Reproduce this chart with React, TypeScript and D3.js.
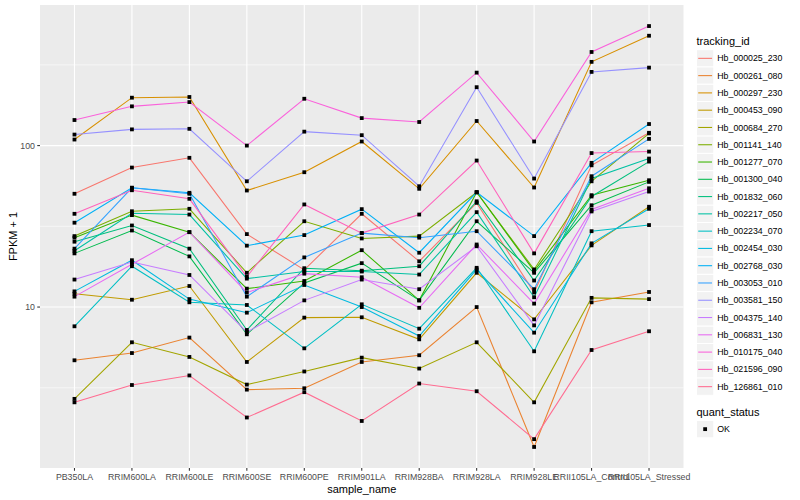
import React, { useEffect, useRef } from 'react';
import * as d3 from 'd3';

const samples = [
  'PB350LA', 'RRIM600LA', 'RRIM600LE', 'RRIM600SE', 'RRIM600PE', 'RRIM901LA',
  'RRIM928BA', 'RRIM928LA', 'RRIM928LE', 'RRII105LA_Control', 'RRII105LA_Stressed',
];

const trackingIds = [
  'Hb_000025_230', 'Hb_000261_080', 'Hb_000297_230', 'Hb_000453_090', 'Hb_000684_270',
  'Hb_001141_140', 'Hb_001277_070', 'Hb_001300_040', 'Hb_001832_060', 'Hb_002217_050',
  'Hb_002234_070', 'Hb_002454_030', 'Hb_002768_030', 'Hb_003053_010', 'Hb_003581_150',
  'Hb_004375_140', 'Hb_006831_130', 'Hb_010175_040', 'Hb_021596_090', 'Hb_126861_010',
];

const hueColors = [
  '#F8766D', '#EA8331', '#D89000', '#C09B00', '#A3A500', '#7CAE00', '#39B600', '#00BB4E',
  '#00BF7D', '#00C1A3', '#00BFC4', '#00BAE0', '#00B0F6', '#35A2FF', '#9590FF', '#C77CFF',
  '#E76BF3', '#FA62DB', '#FF62BC', '#FF6C91',
];

// FPKM + 1, one value per sample (same order as samples)
const hb000025 = [50.3, 73.1, 84, 28.3, 17.0, 37.8, 19.2, 44.2, 12.3, 75.5, 120];
const hb000261 = [4.68, 5.19, 6.47, 3.08, 3.14, 4.57, 5.03, 10.0, 1.36, 10.7, 12.4];
const hb000297 = [109, 198, 200, 52.7, 68.4, 106, 54, 142, 55, 330, 479];
const hb000453 = [12.1, 11.1, 13.5, 4.57, 8.6, 8.64, 6.31, 16.3, 8.39, 24.1, 41.8];
const hb000684 = [2.7, 6.05, 4.91, 3.31, 3.99, 4.86, 4.16, 6.05, 2.57, 11.4, 11.2];
const hb001141 = [27.5, 39.2, 40.6, 16.3, 34.0, 26.6, 27.5, 51.4, 17.1, 60.1, 119];
const hb001277 = [26.9, 37.1, 29.1, 13.0, 14.5, 22.5, 11.0, 51.4, 16.7, 49.3, 61.0];
const hb001300 = [21.5, 29.8, 20.6, 6.78, 14.1, 18.7, 11.0, 34.0, 16.3, 42.7, 59.6];
const hb001832 = [25.4, 32.0, 23.0, 7.21, 17.4, 16.8, 17.9, 45.2, 14.6, 48.4, 79.6];
const hb002217 = [22.3, 38.1, 37.4, 15.0, 16.6, 16.6, 15.9, 38.7, 11.5, 62.5, 83.1];
const hb002234 = [7.6, 17.9, 10.7, 10.3, 5.55, 10.4, 7.35, 17.5, 5.32, 29.5, 32.2];
const hb002454 = [12.5, 19.5, 11.2, 9.23, 13.7, 10.0, 6.62, 17.1, 6.94, 24.8, 40.6];
const hb002768 = [33.3, 54.8, 51.0, 24.0, 27.9, 40.4, 21.7, 51.4, 27.5, 78.2, 136];
const hb003053 = [23.0, 54.8, 50.3, 11.6, 20.3, 28.7, 26.9, 29.5, 12.9, 64.6, 110];
const hb003581 = [117, 126, 127, 60.1, 122, 116, 56, 230, 62.5, 286, 304];
const hb004375 = [14.8, 19.0, 15.8, 7.0, 11.0, 14.8, 12.9, 23.8, 7.7, 39.1, 51.9];
const hb006831 = [11.6, 18.4, 29.1, 12.3, 16.1, 15.3, 9.89, 24.4, 10.5, 40.2, 54.4];
const hb010175 = [144, 175, 186, 100, 195, 148, 140, 283, 106, 380, 550];
const hb021596 = [37.8, 52.9, 46.8, 15.4, 43.2, 28.7, 37.4, 80.8, 21.5, 89.9, 91.8];
const hb126861 = [2.57, 3.29, 3.77, 2.07, 2.97, 1.97, 3.36, 3.01, 1.52, 5.42, 7.08];

const seriesValues = [
  hb000025, hb000261, hb000297, hb000453, hb000684, hb001141, hb001277, hb001300, hb001832, hb002217,
  hb002234, hb002454, hb002768, hb003053, hb003581, hb004375, hb006831, hb010175, hb021596, hb126861,
];

const yMajor = [10, 100];
const yMinor = [3.162, 31.62, 316.2];

const FONT = '"Liberation Sans", Arial, Helvetica, sans-serif';

export default function App() {
  const svgRef = useRef<SVGSVGElement>(null);

  useEffect(() => {
    if (!svgRef.current) return;
    const svg = d3.select(svgRef.current);
    svg.selectAll('*').remove();

    const W = 800, H = 500;
    const pl = 40, pt = 5, pr = 683.5, pb = 468;

    svg.append('rect').attr('width', W).attr('height', H).attr('fill', '#fff');

    // log scale with ggplot style 5% expansion
    const all = seriesValues.flat();
    const lo = Math.log10(d3.min(all) as number);
    const hi = Math.log10(d3.max(all) as number);
    const pad = (hi - lo) * 0.05;
    const y = d3.scaleLog().domain([10 ** (lo - pad), 10 ** (hi + pad)]).range([pb, pt]);
    const x = d3.scalePoint<string>().domain(samples).range([pl, pr]).padding(0.6);

    const g = svg.append('g');
    g.append('rect').attr('x', pl).attr('y', pt).attr('width', pr - pl).attr('height', pb - pt).attr('fill', '#EBEBEB');

    // grid
    yMinor.forEach(v => {
      g.append('line').attr('x1', pl).attr('x2', pr).attr('y1', y(v)).attr('y2', y(v))
        .attr('stroke', '#fff').attr('stroke-width', 0.55);
    });
    yMajor.forEach(v => {
      g.append('line').attr('x1', pl).attr('x2', pr).attr('y1', y(v)).attr('y2', y(v))
        .attr('stroke', '#fff').attr('stroke-width', 1.1);
    });
    samples.forEach(s => {
      g.append('line').attr('x1', x(s)!).attr('x2', x(s)!).attr('y1', pt).attr('y2', pb)
        .attr('stroke', '#fff').attr('stroke-width', 1.1);
    });

    // lines
    const line = d3.line<number>().x((d, i) => x(samples[i])!).y(d => y(d));
    seriesValues.forEach((vals, k) => {
      g.append('path').datum(vals).attr('d', line).attr('fill', 'none')
        .attr('stroke', hueColors[k]).attr('stroke-width', 1.07);
    });

    // points
    seriesValues.forEach(vals => {
      g.selectAll(null).data(vals).enter().append('rect')
        .attr('x', (d, i) => x(samples[i])! - 1.9).attr('y', d => y(d) - 1.9)
        .attr('width', 3.8).attr('height', 3.8).attr('fill', '#000');
    });

    // axes
    const axisCol = '#333333';
    const labelCol = '#4D4D4D';
    yMajor.forEach(v => {
      svg.append('line').attr('x1', pl - 2.75).attr('x2', pl).attr('y1', y(v)).attr('y2', y(v))
        .attr('stroke', axisCol).attr('stroke-width', 1.07);
      svg.append('text').attr('x', pl - 5).attr('y', y(v)).attr('dy', '0.35em')
        .attr('text-anchor', 'end').attr('font-size', 8.8).attr('fill', labelCol)
        .attr('font-family', FONT).text(String(v));
    });
    samples.forEach(s => {
      svg.append('line').attr('x1', x(s)!).attr('x2', x(s)!).attr('y1', pb).attr('y2', pb + 2.75)
        .attr('stroke', axisCol).attr('stroke-width', 1.07);
      svg.append('text').attr('x', x(s)!).attr('y', pb + 12.3)
        .attr('text-anchor', 'middle').attr('font-size', 8.8).attr('fill', labelCol)
        .attr('font-family', FONT).text(s);
    });

    svg.append('text').attr('x', (pl + pr) / 2).attr('y', 492.5).attr('text-anchor', 'middle')
      .attr('font-size', 11).attr('font-family', FONT).attr('fill', '#000').text('sample_name');
    svg.append('text').attr('transform', `translate(17,${(pt + pb) / 2}) rotate(-90)`)
      .attr('text-anchor', 'middle').attr('font-size', 11).attr('font-family', FONT)
      .attr('fill', '#000').text('FPKM + 1');

    // legend: tracking_id
    const lx = 696.5, key = 17.28, ly0 = 49.7;
    svg.append('text').attr('x', lx).attr('y', 44.5).attr('font-size', 11).attr('font-family', FONT)
      .attr('fill', '#000').text('tracking_id');
    const items = svg.selectAll('.leg').data(trackingIds).enter().append('g')
      .attr('transform', (d, i) => `translate(${lx},${ly0 + i * key})`);
    items.append('rect').attr('width', key).attr('height', key).attr('fill', '#F2F2F2')
      .attr('stroke', '#fff').attr('stroke-width', 1);
    items.append('line').attr('x1', key * 0.1).attr('x2', key * 0.9).attr('y1', key / 2).attr('y2', key / 2)
      .attr('stroke', (d, i) => hueColors[i]).attr('stroke-width', 1.07);
    items.append('text').attr('x', key + 3.5).attr('y', key / 2).attr('dy', '0.35em')
      .attr('font-size', 8.8).attr('font-family', FONT).attr('fill', '#000').text(d => d);

    // legend: quant_status
    svg.append('text').attr('x', lx).attr('y', 416).attr('font-size', 11).attr('font-family', FONT)
      .attr('fill', '#000').text('quant_status');
    const qs = svg.append('g').attr('transform', `translate(${lx},420.5)`);
    qs.append('rect').attr('width', key).attr('height', key).attr('fill', '#F2F2F2')
      .attr('stroke', '#fff').attr('stroke-width', 1);
    qs.append('rect').attr('x', key / 2 - 1.9).attr('y', key / 2 - 1.9).attr('width', 3.8).attr('height', 3.8)
      .attr('fill', '#000');
    qs.append('text').attr('x', key + 3.5).attr('y', key / 2).attr('dy', '0.35em')
      .attr('font-size', 8.8).attr('font-family', FONT).attr('fill', '#000').text('OK');
  }, []);

  return (
    <svg ref={svgRef} width={800} height={500}
      style={{ position: 'absolute', left: 0, top: 0, display: 'block' }} />
  );
}
